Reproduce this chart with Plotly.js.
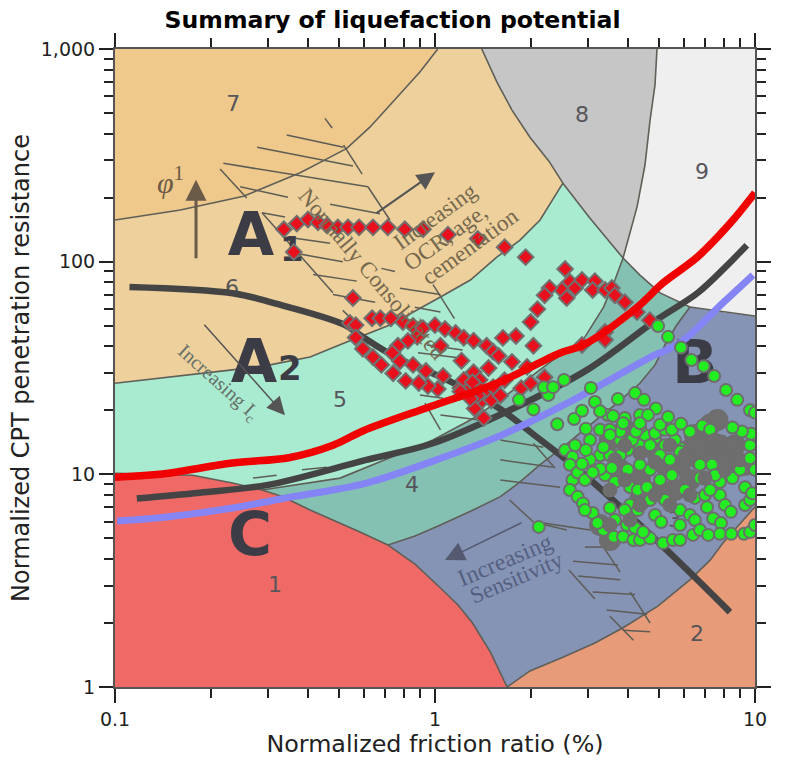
<!DOCTYPE html>
<html><head><meta charset="utf-8">
<script src="https://cdn.plot.ly/plotly-3.0.1.min.js"></script>
<style>html,body{margin:0;padding:0;background:#fff}</style></head>
<body><div id="chart" style="width:785px;height:764px"></div>
<script>
// ---- zone boundaries (friction ratio %, normalized penetration resistance)
const b7X=[.1,.16,.252,.379,.453,.53,.627,.723,.806,.897,1.02];
const b7Y=[157,175,203,262,301,341,430,545,655,780,1000];
const b65X=[.1,.172,.229,.305,.407,.53,.723,1.04,1.29,1.56,1.84,2.13,2.51];
const b65Y=[26.8,29.3,30.9,32.7,35.6,41.9,50.4,68.2,82,105,126,157,234];
const b86TopX=[1.4,1.56,1.74,1.98,2.27,2.51];
const b86TopY=[1000,700,516,385,297,234];
const b85X=[2.51,3.05,3.87];
const b85Y=[234,160,104];
const b89X=[4.94,4.87,4.7,4.53,4.28,4.07,3.87];
const b89Y=[1000,677,463,284,181,136,104];
const b94X=[3.87,4.37,5.05,6.26];
const b94Y=[104,86.5,71.3,61.2];
const b93X=[6.26,7.94,10];
const b93Y=[61.2,58,55.5];
const b54X=[.288,.505,.698,.986,1.29,1.6,2.34,2.9,3.36,3.65,3.87];
const b54Y=[8.44,9.6,11.7,14.5,18,22.4,34.5,42.8,61,82,104];
const b43X=[.713,.866,1.04,1.29,1.6,1.84,2.13,2.55,3.05,3.65,4.37,4.87,5.23,5.68,6.26];
const b43Y=[4.65,5.13,5.78,6.7,7.85,9.2,11.1,13.7,17.1,21.2,26.8,32.7,40.6,50.1,61.2];
const b1aX=[.1,.175,.233,.288];
const b1aY=[10.1,9.9,9.1,8.44];
const b1bX=[.288,.335,.407,.48,.583,.713];
const b1bY=[8.44,7.85,6.79,6.1,5.36,4.65];
const b1cX=[.713,.866,1.04,1.18,1.31,1.49,1.68];
const b1cY=[4.65,3.78,2.92,2.43,2,1.46,1];
const b2X=[1.68,1.98,2.51,3.16,3.87,4.97,6.26,7.24,7.94,10];
const b2Y=[1,1.19,1.38,1.61,1.9,2.4,3.19,3.95,4.75,7.03];

// ---- criteria curves
const redLineX=[.1,.138,.233,.352,.48,.595,.964,1.56,2.46,2.9,4.28,5.16,6.6,8.35,10];
const redLineY=[9.7,10,11.3,12,13.7,16,20.8,26.8,37.2,40.5,61,79.4,105,151,211];
const grayLineAX=[.117,.184,.298,.61,.985,1.71,2.98,4.93,6.6,8.05,9.43];
const grayLineAY=[7.7,8.2,8.9,11.7,14,20,30.9,53.3,71,93.7,119.6];
const grayLineBX=[.111,.233,.312,.52,.595,.753,1.09,1.56,2.09,2.9,5.3,8.35];
const grayLineBY=[76,71,64,50.6,44.2,35.6,27.8,20.8,14.9,10.1,4.4,2.25];
const blueLineX=[.1015,.145,.233,.335,.61,1.01,1.6,2.59,3.52,4.7,5.83,7.94,9.86];
const blueLineY=[6.03,6.3,6.94,7.7,9.1,11.7,15.2,21.6,27.8,35.5,41.5,64,86.5];

// ---- measured points, zone A
const redX=[.337,.37,.401,.431,.46,.497,.535,.579,.64,.712,.805,.917,.362,.554,1.098,1.36,1.65,1.92,2.55,2.64,2.49,2.74,2.88,3.16,3.11,3.4,3.57,3.65,3.92,4.28,4.69,2.58,2.28,2.2,2.09,1.99,1.79,1.63,2.03,3.4,3.4,2.88,
.542,.565,.636,.675,.728,.794,.854,.88,.823,.766,.735,.777,.854,.937,1.06,1.2,1.02,.95,.89,.81,.74,.68,.64,.595,.565,
.917,1,1.075,1.16,1.23,1.32,1.45,1.52,1.58,1.74,1.94,1.04,1.21,
1.23,1.32,1.47,1.38,1.27,1.36,1.47,1.38,1.42,1.52,1.86,1.99,2.2,1.31,1.36,1.5,1.33,1.29,1.2,1.6,1.65];
const redY=[142,151,158,153,148,145,145,145,145,145,142,142,111,67.5,134,128,117,105,92.4,80.3,73.6,75.2,82,81,73.6,73.6,75.2,69.5,64.5,57.9,53.1,67.5,75.2,69.5,59.8,52,44.7,43.8,40.2,46.7,42.9,40.6,
51.5,50.3,54.2,54.2,54.2,52,49.8,44.3,42.4,40.2,37.3,34,32.7,30.6,29,25.5,25.2,26,26.9,27.5,29.9,32.7,35.6,38.9,44,
48.7,50.3,48.2,46.2,43.9,42.5,40.2,37.7,36,33.8,32,40.2,34.2,
27.8,30.2,31.6,27.8,24.9,25.7,24.1,21.7,18.4,25.7,25.4,26.8,28.6,27.1,23.5,22.3,20.4,22.7,24.5,23.5,27.7];

// ---- measured points, zone B/C
const blobX=[7.24,7.63,8.66,7.77,6.98,7.5,6.49,9.31,8.35,6.73,6.26,5.83,5.23,4.87,6.26,5.62,5.05,4.37,4.37,3.79,3.28,3.52,3.92,4.37,3.52];
const blobY=[17.1,18,13.7,13.7,13.7,11.7,15.3,11.1,11.7,11.7,13,11.1,11.1,13,9.4,8.44,8.44,7.57,9.4,10.5,5.78,4.91,16.2,14.5,14.5];
const sliverX=[3.79,4.0,4.37,4.87,5.23,5.83,6.73,7.34,4.7,5.05,5.5,6.04,6.49,6.98,7.77,8.06,9.31,9.65,4.37,4.0,3.79,4.7,5.23,5.83,6.26,7.24,6.85,7.24,3.79,4.13,4.53,4.87,5.23,5.62,5.83,
3.47,3.92,4.37,5.05,5.5,6.26,3.05,3.28,3.52,
2.55,2.69,2.69,2.64,2.79,2.9,3.11,3.36,3.62,3.87,4.17,4.37,4.7,5.16,5.54,5.83,6.4,2.64,2.79,2.94,
3.52,3.65,3.98,4.22,4.47,4.07,4.3,3.4,3.65,4.07,4.3,4.6,8.35,7.77,8.5,9.31,9.8,7.4,7.08,
2.74,2.94,3.22,3.92,4.87,5.83,6.49,6.73,6.73,7.5,8.98,10,9.65,10,5.05,4.37,4.7,3.28,3.05,3.52,5.42,3.52];
const sliverY=[14.5,13,13.7,14.8,13.7,13.3,11.1,11.1,10.5,9.4,9.9,8.44,7.75,8,8,7.17,7.17,7.57,11.1,10.5,12.3,7.57,7.57,6.79,6.44,8.44,16.9,16.2,15.9,14.5,15.3,15.6,16.2,14.5,12.8,
19,18.4,19,17.1,16.2,15.9,14.5,16.2,16.2,
13,12.1,9.4,8.44,7.85,7.3,6.58,5.47,5.09,5.09,4.91,4.91,5,4.75,4.91,4.91,5.19,11.1,10.2,9.4,
6.95,6.1,5.78,5.6,5.35,7.17,6.79,9.9,9.2,8.7,8.44,8.7,9.9,9.2,9.6,8.7,8.15,6.2,7,
13.7,6.79,5.9,6.79,6.44,5.78,6.1,5.47,9.6,9.9,10.5,10.5,13.7,15.3,12.3,16.7,13.7,12.3,11.7,12.3,11.7,15.3];
const coverX=[4.37,4.87,5.42,6.04,6.73,7.5,8.35,8.98,8.06,6.98,6.26,5.42,4.87,4.37,3.92,3.52,3.65,3.92,3.52,4.07];
const coverY=[12.6,11.4,13.7,12.3,14.5,14.5,13.7,11.7,10.5,9.6,8,7.17,8,7.17,9.4,8.44,11.7,13.7,5.78,6.1];
const greenX=[1.83,2.03,2.26,2.19,2.34,2.53,3.07,4.98,5.35,5.87,6.33,6.91,7.45,8.12,8.8,9.65,10,2.41,2.72,2.96,2.88,3.16,3.28,3.6,3.87,4.25,4.22,4.5,4.9,4.63,5.35,5.87,4.37,3.73,2.96,3.36,2.88,3.57,3.28,3.11,8.41,7.83,5.09,2.11,7.77,8.43,7.14,9.72,9.1,8.5,9.65,9.24,9.65,10];
const greenY=[22.4,20.2,23.6,25.7,25.7,27.8,25.5,49.8,44.3,39.5,34.5,32.2,29,24.9,22.4,20,19.5,17.2,18.2,16.4,19.9,21.9,19.8,18.8,17.4,15.9,24.1,22.4,20.4,19,18.6,17.3,17.4,22.6,13,13.4,11.2,10.7,10.6,10.2,6.66,5.9,5.97,5.66,5.25,5.25,5.19,15.5,15.9,16.6,11.9,5.25,5.35,5.78];

// ---- hatching of the base chart (null separates the strokes)
const hatchX=[.453,.477,null,.344,.518,null,.518,.592,null,.278,.554,null,.218,.617,null,.617,.723,null,.213,.258,null,.246,.347,null,.47,.673,null,.288,.34,null,.288,.48,null,.352,.47,null,.36,.515,null,.416,.57,null,.48,.65,null,.68,.75,null,.777,1.04,null,.865,1.04,null,.515,.554,null,.986,1.15,null,.944,1.22,null,.885,1.2,null,.897,1.06,null,.93,1.04,null,1.04,1.38,null,.27,.32,null,.384,.46,null,1.6,2.18,null,1.6,2.34,null,2.03,2.37,null,1.6,2.46,null,1.71,2.03,null,2.09,2.58,null,2.18,3.05,null,2.94,3.44,null,3.28,3.79,null,2.7,3.73,null,2.62,3.16,null,2.8,3.79,null,3.11,4.22,null,4.07,4.7,null,3.44,4.6,null,3.52,4.17,null,3.87,4.7];
const hatchY=[472,425,null,394,345,null,353,258,null,345,282,null,290,225,null,225,157,null,273,199,null,225,201,null,186,168,null,170,162,null,170,71.5,null,130,122,null,110,100,null,87,81,null,70,64.5,null,93,90,null,75,70,null,61,58,null,59,53,null,78,54,null,40.6,38.4,null,37.3,35.2,null,23.6,22.8,null,21.6,16.2,null,19,18,null,9.6,9.9,null,10.5,10.8,null,14.5,13.4,null,11.7,10.8,null,14,10.7,null,9.4,8.7,null,7.57,5.97,null,5.9,5.47,null,5.9,5.47,null,4.55,4.55,null,4.8,3.47,null,3.9,3.75,null,3.55,2.59,null,3.33,3.19,null,2.8,2.72,null,2.8,2,null,2.3,2.2,null,2.15,1.66,null,1.85,1.82];

// ---- labels
const zoneX=[.234,2.88,6.83,.232,.505,.847,5.62,6.59,.316];
const zoneY=[545,479,261,73.7,22.1,8.72,5.97,1.74,2.98];
const zoneText=['7','8','9','6','5','4','3','2','1'];
const classX=[.266,.272,6.49,.264];
const classY=[127,32,31.7,4.9];
const classText=['A','A','B','C'];
const subX=[.357,.352];
const subY=[111,30.3];
const subText=['1','2'];
const xTickVals=[.1,1,10], xTickText=['0.1','1','10'];
const yTickVals=[1,10,100,1000], yTickText=['1','10','100','1,000'];
const xMinor=[.2,.3,.4,.5,.6,.7,.8,.9,2,3,4,5,6,7,8,9];
const yMinor=[2,3,4,5,6,7,8,9,20,30,40,50,60,70,80,90,200,300,400,500,600,700,800,900];

const rev=a=>a.slice().reverse();
const poly=(x,y,color)=>({x,y,type:'scatter',mode:'none',fill:'toself',fillcolor:color,hoverinfo:'skip',showlegend:false});
const edge=(x,y)=>({x,y,type:'scatter',mode:'lines',line:{color:'#5f5f58',width:1.6},hoverinfo:'skip',showlegend:false});
const curve=(x,y,color,w)=>({x,y,type:'scatter',mode:'lines',line:{color,width:w,shape:'spline'},hoverinfo:'skip',showlegend:false});
const label=(x,y,text,size,color,weight)=>({x,y,text,type:'scatter',mode:'text',textposition:'middle center',textfont:{family:'DejaVu Sans',size,color,weight},hoverinfo:'skip',showlegend:false});
const dots=(x,y,size,color,lw)=>({x,y,type:'scatter',mode:'markers',marker:{size,color,line:{color:'#6E6E6E',width:lw}},hoverinfo:'skip',showlegend:false});

const traces=[
 poly([.1,...b86TopX,...rev(b65X),.1],[1000,...b86TopY,...rev(b65Y),1000],'#EDD09B'),
 poly([.1,...b7X,.1],[157,...b7Y,1000],'#EFC98C'),
 poly([...b65X,...b85X,...rev(b54X),...rev(b1aX)],[...b65Y,...b85Y,...rev(b54Y),...rev(b1aY)],'#A9EBD0'),
 poly([...b54X,...b94X,...rev(b43X),...rev(b1bX)],[...b54Y,...b94Y,...rev(b43Y),...rev(b1bY)],'#85C1B3'),
 poly([...b43X,...b93X,...rev(b2X),...rev(b1cX)],[...b43Y,...b93Y,...rev(b2Y),...rev(b1cY)],'#8593B5'),
 poly([...b2X,10,1.68],[...b2Y,1,1],'#E89B79'),
 poly([...b1aX,...b1bX,...b1cX,.1,.1],[...b1aY,...b1bY,...b1cY,1,10.1],'#EF6A66'),
 poly([...b86TopX,...b85X,...rev(b89X)],[...b86TopY,...b85Y,...rev(b89Y)],'#C6C6C6'),
 poly([...b89X,...b94X,...b93X,10,4.94],[...b89Y,...b94Y,...b93Y,1000,1000],'#EFEFEF'),
 edge(b7X,b7Y),edge(b65X,b65Y),edge(b86TopX,b86TopY),edge(b85X,b85Y),edge(b89X,b89Y),edge(b94X,b94Y),edge(b93X,b93Y),edge(b54X,b54Y),edge(b43X,b43Y),edge(b1aX,b1aY),edge(b1bX,b1bY),edge(b1cX,b1cY),edge(b2X,b2Y),
 {x:hatchX,y:hatchY,type:'scatter',mode:'lines',connectgaps:false,line:{color:'#5d5d55',width:1.5},hoverinfo:'skip',showlegend:false},
 label(zoneX,zoneY,zoneText,22,'#55555a',400),
 label(classX,classY,classText,60,'#3c3c46',700),
 label(subX,subY,subText,34,'#3c3c46',700),
 curve(grayLineBX,grayLineBY,'#444444',6.5),
 curve(grayLineAX,grayLineAY,'#444444',6.5),
 curve(blueLineX,blueLineY,'#8484F5',7),
 {x:redX,y:redY,type:'scatter',mode:'markers',marker:{symbol:'diamond',size:12,color:'#E8101C',line:{color:'#707070',width:2}},hoverinfo:'skip',showlegend:false},
 curve(redLineX,redLineY,'#F00000',7.5),
 dots(blobX,blobY,22,'#6E6E6E',0),
 dots(sliverX,sliverY,12,'#22EE22',2),
 dots(coverX,coverY,15,'#6E6E6E',0),
 dots(greenX,greenY,12,'#22EE22',2)
];

const serif=(text,x,y,angle,size,color)=>({xref:'paper',yref:'paper',x,y,text,textangle:angle,showarrow:false,xanchor:'center',yanchor:'middle',font:{family:'Liberation Serif',size,color}});
const arrow=(x,y,ax,ay,w,s,color)=>({xref:'paper',yref:'paper',x,y,ax,ay,text:'',showarrow:true,arrowhead:2,arrowwidth:w,arrowsize:s,arrowcolor:color});
const layout={
 width:785,height:764,margin:{l:115,r:30,t:49,b:77},
 paper_bgcolor:'#fff',plot_bgcolor:'#fff',showlegend:false,
 title:{text:'Summary of liquefaction potential',x:.5,xanchor:'center',y:.974,yanchor:'middle',font:{family:'DejaVu Sans',size:23.6,weight:700,color:'#000'}},
 xaxis:{type:'log',range:[-1,1],tickmode:'array',tickvals:xTickVals,ticktext:xTickText,ticks:'outside',ticklen:14,tickwidth:2,tickcolor:'#222',
  minor:{tickmode:'array',tickvals:xMinor,ticks:'outside',ticklen:9,tickwidth:2,tickcolor:'#222'},
  showgrid:false,zeroline:false,showline:true,linecolor:'#555',linewidth:2,mirror:'ticks',
  tickfont:{family:'DejaVu Sans',size:19,color:'#222'},title:{text:'Normalized friction ratio (%)',standoff:6,font:{family:'DejaVu Sans',size:23.8,color:'#222'}}},
 yaxis:{type:'log',range:[0,3],tickmode:'array',tickvals:yTickVals,ticktext:yTickText,ticks:'outside',ticklen:14,tickwidth:2,tickcolor:'#222',
  minor:{tickmode:'array',tickvals:yMinor,ticks:'outside',ticklen:9,tickwidth:2,tickcolor:'#222'},
  showgrid:false,zeroline:false,showline:true,linecolor:'#555',linewidth:2,mirror:'ticks',
  tickfont:{family:'DejaVu Sans',size:19,color:'#222'},title:{text:'Normalized CPT penetration resistance',standoff:4,font:{family:'DejaVu Sans',size:24,color:'#222'}}},
 annotations:[
  serif('Increasing',.5,.738,-36,23,'#75684f'),
  serif('OCR, age,',.516,.705,-36,23,'#75684f'),
  serif('cementation',.555,.69,-36,23,'#75684f'),
  serif('Normally Consolidated',.402,.646,50,23,'#75684f'),
  serif('Increasing I<sub>c</sub>',.161,.478,42,20,'#66706a'),
  serif('Increasing',.609,.199,-23,24,'#556080'),
  serif('Sensitivity',.628,.172,-23,23,'#556080'),
  {xref:'paper',yref:'paper',x:.086,y:.795,text:'<i>φ</i><sup>1</sup>',showarrow:false,xanchor:'center',yanchor:'middle',font:{family:'Liberation Serif',size:30,color:'#6b5a45'}},
  arrow(.1266,.795,0,80,3,1.4,'#6a5a48'),
  arrow(.5,.807,-60,42,2,1.8,'#555555'),
  arrow(.2656,.426,-82,-92,1.5,2.4,'#555555'),
  arrow(.5156,.199,78,-38,1.5,2.6,'#555a70')
 ]
};
Plotly.newPlot('chart',traces,layout,{staticPlot:true,displayModeBar:false});
</script></body></html>
